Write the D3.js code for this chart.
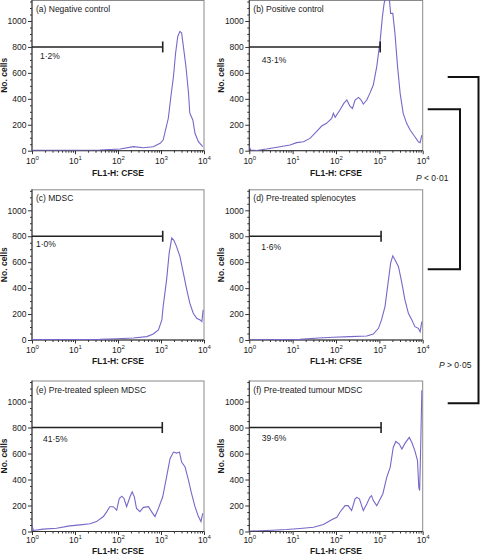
<!DOCTYPE html>
<html><head><meta charset="utf-8">
<script src="https://cdn.jsdelivr.net/npm/d3@7"></script>
<style>
body{margin:0;background:#fff}
svg{display:block}
text{font-family:"Liberation Sans",Arial,Helvetica,sans-serif;fill:#1a1a1a}
</style>
</head><body>
<svg id="chart" width="480" height="555"></svg>
<script>
// ---------- data ----------
const panelTitles = ["(a) Negative control","(b) Positive control","(c) MDSC",
  "(d) Pre-treated splenocytes","(e) Pre-treated spleen MDSC","(f) Pre-treated tumour MDSC"];
const gatePercents = ["1·2%","43·1%","1·0%","1·6%","41·5%","39·6%"];
const gateLevel = 800;                 // No. cells at which the gate marker is drawn
const gateEndLog = [3.04,3.02,3.04,3.04,3.03,3.04]; // log10 FL1-H of gate boundary
const yTickValues = [0,200,400,600,800,1000];
const xTickExponents = [0,1,2,3,4];
const xLabel = "FL1-H: CFSE";
const yLabel = "No. cells";
const pLabels = [["P"," < 0·01"],["P"," > 0·05"]];

// histograms: [log10 FL1-H, No. cells]
const histA = [[0,3],[0.81,3],[1.58,5],[2.05,13],[2.36,31],[2.59,23],[2.82,31],[2.98,57],[3.05,82],[3.17,250],[3.23,418],[3.29,572],[3.34,753],[3.39,881],[3.44,920],[3.48,907],[3.52,804],[3.58,649],[3.64,443],[3.67,289],[3.74,237],[3.79,134],[3.87,70],[3.97,31]];
const histB = [[0,31],[0.03,5],[0.17,2],[0.4,13],[0.71,31],[0.94,44],[1.09,62],[1.25,69],[1.4,95],[1.55,147],[1.67,190],[1.78,211],[1.9,249],[1.94,288],[1.98,257],[2.09,314],[2.18,365],[2.25,391],[2.32,344],[2.38,326],[2.44,391],[2.52,411],[2.58,391],[2.63,360],[2.71,391],[2.78,442],[2.86,506],[2.94,648],[3.02,853],[3.07,1033],[3.11,1136],[3.14,1175],[3.17,1180],[3.23,1175],[3.26,1059],[3.31,1059],[3.36,905],[3.42,648],[3.48,442],[3.55,288],[3.63,211],[3.71,159],[3.82,108],[3.9,69],[3.94,62],[3.98,121]];
const histC = [[0,3],[1,3],[1.58,5],[1.97,10],[2.36,15],[2.67,26],[2.82,46],[2.94,77],[3.02,155],[3.05,258],[3.13,464],[3.19,670],[3.25,786],[3.3,768],[3.36,722],[3.44,644],[3.52,515],[3.6,387],[3.67,284],[3.75,206],[3.83,168],[3.91,155],[3.95,142],[3.98,232]];
const histD = [[0,2],[1.17,5],[1.59,15],[1.94,21],[2.32,26],[2.71,31],[2.86,46],[2.98,90],[3.05,155],[3.13,258],[3.21,464],[3.26,593],[3.31,649],[3.36,618],[3.44,567],[3.52,438],[3.59,309],[3.67,206],[3.75,155],[3.82,103],[3.9,90],[3.94,64],[3.98,142]];
const histE = [[0,51],[0.03,8],[0.26,18],[0.57,25],[0.88,43],[1.12,51],[1.35,59],[1.5,76],[1.66,115],[1.74,153],[1.81,191],[1.89,191],[1.97,165],[2.03,254],[2.09,272],[2.14,254],[2.2,191],[2.28,267],[2.33,305],[2.38,267],[2.43,178],[2.51,153],[2.59,186],[2.71,191],[2.78,153],[2.86,115],[2.94,178],[3.04,267],[3.13,420],[3.21,560],[3.29,611],[3.36,603],[3.43,611],[3.48,534],[3.56,496],[3.64,394],[3.71,293],[3.79,191],[3.87,115],[3.93,76],[3.97,140]];
const histF = [[0,3],[0.4,8],[0.75,13],[0.86,15],[1.17,23],[1.48,33],[1.71,54],[1.9,90],[2.02,110],[2.09,148],[2.21,199],[2.28,199],[2.36,161],[2.44,251],[2.48,263],[2.54,251],[2.63,161],[2.71,212],[2.78,263],[2.82,276],[2.86,238],[2.94,199],[3.02,251],[3.08,289],[3.17,417],[3.25,494],[3.32,647],[3.38,693],[3.46,673],[3.52,634],[3.59,678],[3.69,724],[3.75,685],[3.82,621],[3.88,545],[3.91,340],[3.93,315],[3.95,596],[3.98,1082],[3.99,1082]];
const histograms = [histA,histB,histC,histD,histE,histF];

// ---------- layout ----------
const colX = [[32,204],[249.3,422.7]];
const rowY = [[0,150.7],[189.3,340],[380.5,531.5]];
const tickLabelOff = [13.5,12.5,11.5];
const titleOff = [25,24,22.8];
const pctOff = [[8,12],[12.4,16],[4,10.5],[12,13.3],[11,14],[12.4,13.7]];
const yMax = 1162;
const lineColor = "#7568c8";

const svg = d3.select("#chart");
const defs = svg.append("defs");

histograms.forEach((data, i) => {
  const col = i % 2, row = Math.floor(i / 2);
  const [x0, x1] = colX[col];
  const [y0, y1] = rowY[row];
  const x = d3.scaleLog().domain([1, 1e4]).range([x0, x1]);
  const y = d3.scaleLinear().domain([0, yMax]).range([y1, y0]);
  const g = svg.append("g");

  // frame (top/right grey)
  g.append("rect").attr("x", x0).attr("y", y0 + 0.5).attr("width", x1 - x0).attr("height", y1 - y0 - 0.5)
    .attr("fill", "none").attr("stroke", "#8a8a8a").attr("stroke-width", 1);

  // clip
  const cid = "clip" + i;
  defs.append("clipPath").attr("id", cid).append("rect")
    .attr("x", x0).attr("y", y0).attr("width", x1 - x0).attr("height", y1 - y0);

  // y axis
  const minorY = d3.range(0, 1151, 50).filter(v => v % 200 !== 0);
  const yMinor = g.append("g").attr("transform", `translate(${x0},0)`)
    .call(d3.axisLeft(y).tickValues(minorY).tickSize(2).tickFormat(""));
  yMinor.select(".domain").remove();
  yMinor.selectAll("line").attr("stroke", "#333");
  const yAx = g.append("g").attr("transform", `translate(${x0},0)`)
    .call(d3.axisLeft(y).tickValues(yTickValues).tickSize(4).tickPadding(1.5).tickFormat(d3.format("d")));
  yAx.select(".domain").attr("stroke", "#333").attr("d", `M0,${y1}V${y0}`);
  yAx.selectAll("line").attr("stroke", "#333");
  yAx.selectAll("text").attr("font-size", 8.5).attr("fill", "#1a1a1a")
    .style("font-family", '"Liberation Sans",Arial,sans-serif');

  // x axis
  const minorX = [];
  xTickExponents.slice(0, -1).forEach(e => { for (let k = 2; k <= 9; k++) minorX.push(k * Math.pow(10, e)); });
  const xMinor = g.append("g").attr("transform", `translate(0,${y1})`)
    .call(d3.axisBottom(x).tickValues(minorX).tickSize(2).tickFormat(""));
  xMinor.select(".domain").remove();
  xMinor.selectAll("line").attr("stroke", "#333");
  const majorX = xTickExponents.map(e => Math.pow(10, e));
  const xAx = g.append("g").attr("transform", `translate(0,${y1})`)
    .call(d3.axisBottom(x).tickValues(majorX).tickSize(3.5).tickFormat(""));
  xAx.select(".domain").attr("stroke", "#333").attr("d", `M${x0},0H${x1}`);
  xAx.selectAll("line").attr("stroke", "#333");
  xTickExponents.forEach(e => {
    const t = g.append("text").attr("x", x(Math.pow(10, e)) + 0.5).attr("y", y1 + tickLabelOff[row])
      .attr("text-anchor", "middle").attr("font-size", 8.5);
    t.append("tspan").text("10");
    t.append("tspan").attr("dy", -4).attr("font-size", 6).text(String(e));
  });

  // axis titles
  g.append("text").attr("x", (x0 + x1) / 2).attr("y", y1 + titleOff[row])
    .attr("text-anchor", "middle").attr("font-size", 8.5).attr("font-weight", 600).text(xLabel);
  g.append("text").attr("transform", `translate(${x0 - 25},${(y0 + y1) / 2}) rotate(-90)`)
    .attr("text-anchor", "middle").attr("font-size", 8.5).attr("font-weight", 600).text(yLabel);

  // panel title
  g.append("text").attr("x", x0 + 4).attr("y", y0 + 12).attr("font-size", 8.5).text(panelTitles[i]);

  // histogram line
  const line = d3.line().x(d => x(Math.pow(10, d[0]))).y(d => y(d[1]));
  g.append("path").datum(data).attr("clip-path", `url(#${cid})`)
    .attr("d", line).attr("fill", "none").attr("stroke", lineColor).attr("stroke-width", 1.1);

  // gate marker
  const gx = x(Math.pow(10, gateEndLog[i])), gy = y(gateLevel);
  g.append("line").attr("x1", x0).attr("x2", gx).attr("y1", gy).attr("y2", gy)
    .attr("stroke", "#222").attr("stroke-width", 1.6);
  g.append("line").attr("x1", gx).attr("x2", gx).attr("y1", gy - 5.5).attr("y2", gy + 5.5)
    .attr("stroke", "#222").attr("stroke-width", 1.6);
  g.append("text").attr("x", x0 + pctOff[i][0]).attr("y", gy + pctOff[i][1])
    .attr("font-size", 8.5).text(gatePercents[i]);
});

// significance brackets
const bracket = (xa, xb, ya, yb) => svg.append("path")
  .attr("d", `M${xa},${ya}H${xb}V${yb}H${xa}`)
  .attr("fill", "none").attr("stroke", "#111").attr("stroke-width", 2);
bracket(427.7, 460, 109.3, 269.3);
bracket(447.7, 478.5, 77, 403.3);

const pPos = [[416, 181], [439, 367.5]];
pLabels.forEach((p, k) => {
  const t = svg.append("text").attr("x", pPos[k][0]).attr("y", pPos[k][1]).attr("font-size", 8.5);
  t.append("tspan").attr("font-style", "italic").text(p[0]);
  t.append("tspan").text(p[1]);
});
</script>
</body></html>
